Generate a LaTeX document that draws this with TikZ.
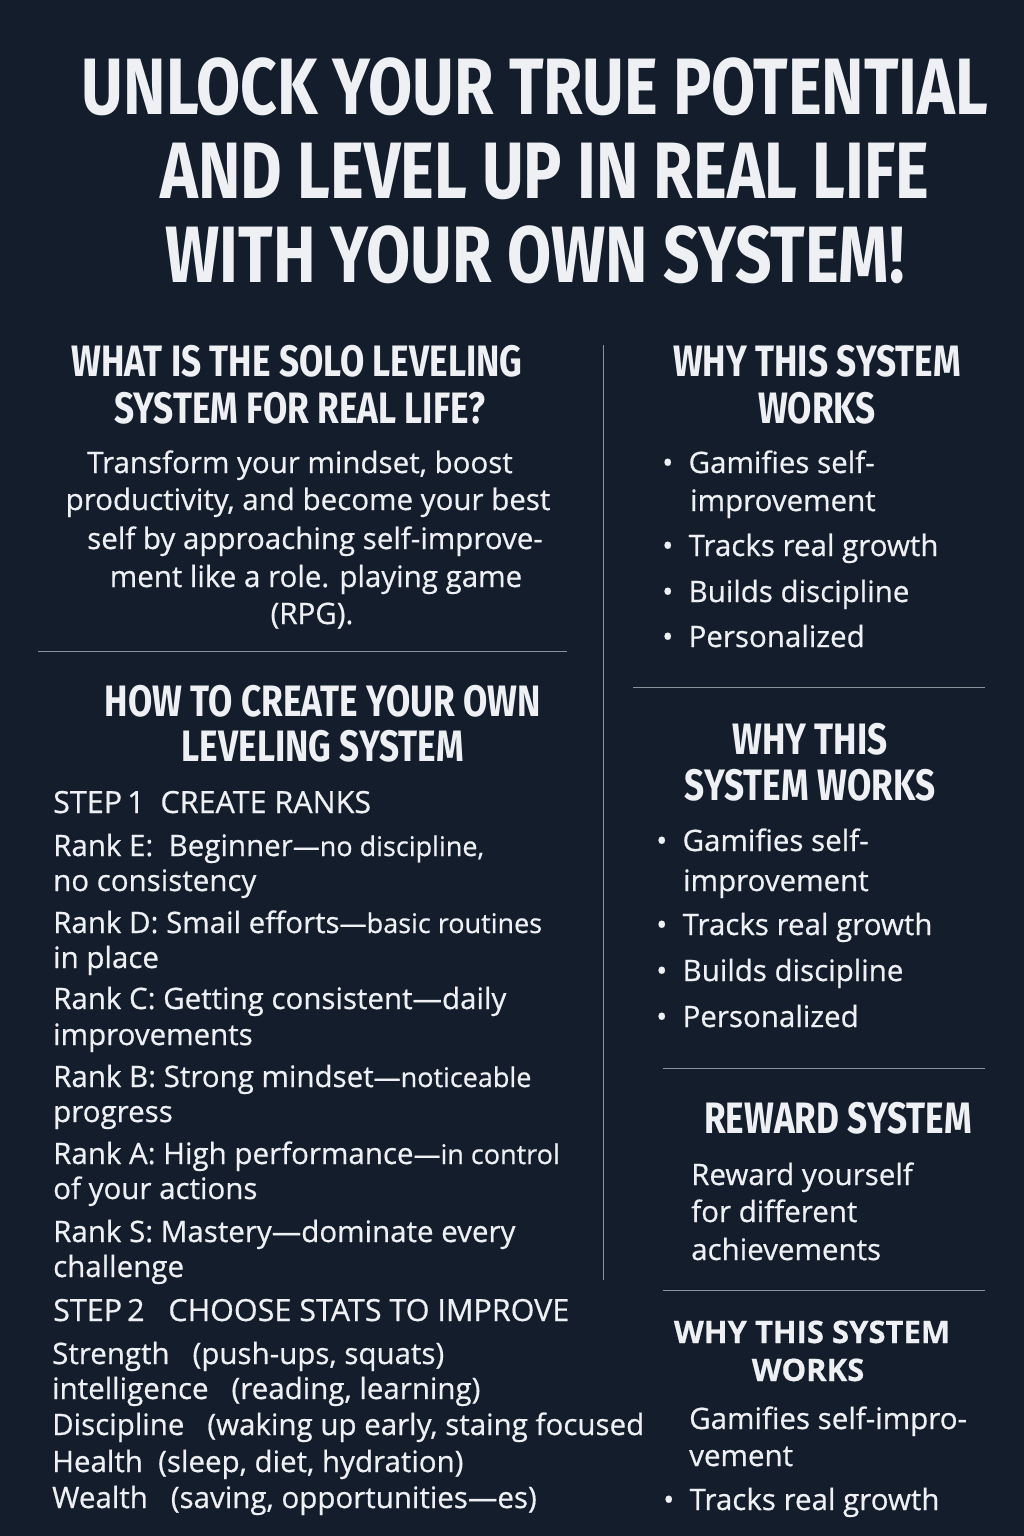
\documentclass[tikz,border=0pt]{standalone}
\usepackage{fontspec}
\setmainfont{Open Sans}[FakeBold=0.6]
\newfontfamily\headfont[FakeStretch=0.80]{Fira Sans}
\definecolor{bg}{HTML}{131D2B}
\definecolor{fg}{HTML}{EEF0F3}
\definecolor{rule}{HTML}{8A929C}
\begin{document}
\begin{tikzpicture}[x=1pt,y=-1pt,
  every node/.style={text=fg,inner sep=0pt},
  ttl/.style={anchor=base,font=\headfont\bfseries\fontsize{80}{80}\selectfont},
  hd/.style={anchor=base,font=\headfont\bfseries\fontsize{44}{44}\selectfont},
  hds/.style={anchor=base,font=\bfseries\fontsize{31}{31}\selectfont},
  bd/.style={anchor=base,font=\fontsize{29.5}{29.5}\selectfont},
  bl/.style={anchor=base west,font=\fontsize{29.5}{29.5}\selectfont},
  st/.style={anchor=base west,font=\fontsize{30.5}{30.5}\selectfont},
  dv/.style={draw=rule,line width=1pt}]
\def\sm{\fontsize{27}{27}\selectfont}
\fill[bg] (0,0) rectangle (1024,1536);
\useasboundingbox (0,0) rectangle (1024,1536);
% title
\node[ttl] (t1) at (535,115) {UNLOCK YOUR TRUE POTENTIAL};
\node[ttl] (t2) at (545,198) {AND LEVEL UP IN REAL LIFE};
\node[ttl] (t3) at (535,282) {WITH YOUR OWN SYSTEM!};
% left column
\node[hd] (h1a) at (297,376) {WHAT IS THE SOLO LEVELING};
\node[hd] (h1b) at (300,423) {SYSTEM FOR REAL LIFE?};
\node[bd] (p1) at (300,473) {Transform your mindset, boost};
\node[bd] (p2) at (308,510) {productivity, and become your best};
\node[bd] (p3) at (315,549) {self by approaching self-improve-};
\node[bd] (p4) at (316,587) {ment like a role. playing game};
\node[bd] (p5) at (312,624) {(RPG).};
\draw[dv] (38,651) -- (567,651);
\node[hd] (h2a) at (323,716) {HOW TO CREATE YOUR OWN};
\node[hd] (h2b) at (323,761) {LEVELING SYSTEM};
\node[st] (s1) at (53,813) {STEP\,1\ \ CREATE RANKS};
\node[bl] (r1) at (53,856) {Rank E:\ \ Beginner{\sm—no discipline,}};
\node[bl] (r1b) at (53,891) {no consistency};
\node[bl] (r2) at (53,933) {Rank D: Smail efforts{\sm—basic routines}};
\node[bl] (r2b) at (53,968) {in place};
\node[bl] (r3) at (53,1009) {Rank C: Getting consistent—daily};
\node[bl] (r3b) at (53,1045) {improvements};
\node[bl] (r4) at (53,1087) {Rank B: Strong mindset{\sm—noticeable}};
\node[bl] (r4b) at (53,1122) {progress};
\node[bl] (r5) at (53,1164) {Rank A: High performance{\sm—in control}};
\node[bl] (r5b) at (53,1199) {of your actions};
\node[bl] (r6) at (53,1242) {Rank S: Mastery—dominate every};
\node[bl] (r6b) at (53,1277) {challenge};
\node[st] (s2) at (53,1321) {STEP\,2\ \ \ CHOOSE STATS TO IMPROVE};
\node[bl] (a1) at (52,1364) {Strength\ \ \ (push-ups, squats)};
\node[bl] (a2) at (52,1399) {intelligence\ \ \ (reading, learning)};
\node[bl] (a3) at (52,1435) {Discipline\ \ \ (waking up early, staing focused};
\node[bl] (a4) at (52,1472) {Health\ \ (sleep, diet, hydration)};
\node[bl] (a5) at (52,1508) {Wealth\ \ \ (saving, opportunities—es)};
\draw[dv] (603,345) -- (603,1280);
% right column
\node[hd] (h3a) at (817,376) {WHY THIS SYSTEM};
\node[hd] (h3b) at (817,423) {WORKS};
\node[bl] (b1) at (662,473) {•\ \ Gamifies self-};
\node[bl] (b1b) at (690,511) {improvement};
\node[bl] (b2) at (662,556) {•\ \ Tracks real growth};
\node[bl] (b3) at (662,602) {•\ \ Builds discipline};
\node[bl] (b4) at (662,647) {•\ \ Personalized};
\draw[dv] (633,687) -- (985,687);
\node[hd] (h4a) at (810,754) {WHY THIS};
\node[hd] (h4b) at (810,800) {SYSTEM WORKS};
\node[bl] (c1) at (656,851) {•\ \ Gamifies self-};
\node[bl] (c1b) at (683,891) {improvement};
\node[bl] (c2) at (656,935) {•\ \ Tracks real growth};
\node[bl] (c3) at (656,981) {•\ \ Builds discipline};
\node[bl] (c4) at (656,1027) {•\ \ Personalized};
\draw[dv] (663,1068) -- (985,1068);
\node[hd] (h5) at (838,1133) {REWARD SYSTEM};
\node[bl] (w1) at (691,1185) {Reward yourself};
\node[bl] (w2) at (691,1222) {for different};
\node[bl] (w3) at (691,1260) {achievements};
\draw[dv] (663,1290) -- (985,1290);
\node[hds] (h6a) at (812,1343) {WHY THIS SYSTEM};
\node[hds] (h6b) at (808,1381) {WORKS};
\node[bl] (d1) at (689,1429) {Gamifies self-impro-};
\node[bl] (d1b) at (689,1466) {vement};
\node[bl] (d2) at (663,1510) {•\ \ Tracks real growth};
\end{tikzpicture}
\end{document}
